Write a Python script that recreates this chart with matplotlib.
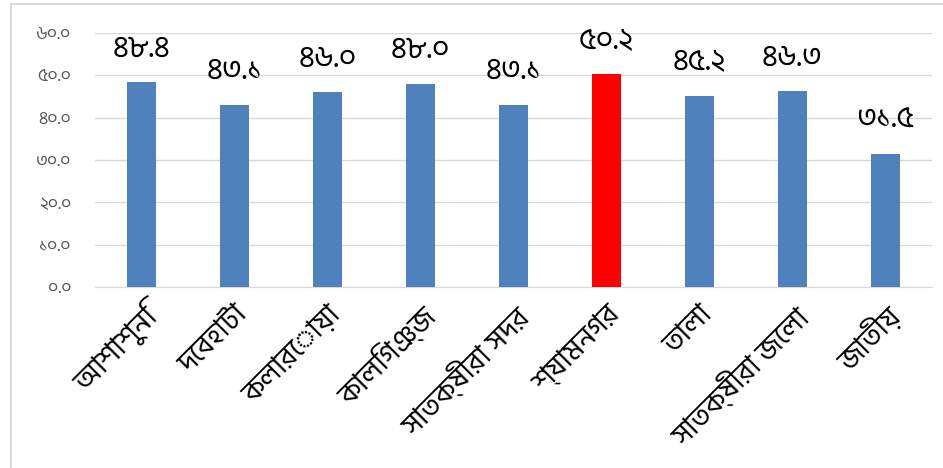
import matplotlib
matplotlib.use('Agg')
import matplotlib.pyplot as plt
from matplotlib.patches import Rectangle

plt.rcParams['font.family'] = ['Hind Siliguri', 'DejaVu Sans']

# Data
upazilas = ['আশাশুনি', 'দেবহাটা', 'কলারোয়া', 'কালিগঞ্জ', 'সাতক্ষীরা সদর',
            'শ্যামনগর', 'তালা', 'সাতক্ষীরা জেলা', 'জাতীয়']
values = [48.4, 43.1, 46.0, 48.0, 43.1, 50.2, 45.2, 46.3, 31.5]
value_labels = ['৪৮.৪', '৪৩.১', '৪৬.০', '৪৮.০', '৪৩.১', '৫০.২', '৪৫.২', '৪৬.৩', '৩১.৫']
yticks = [0, 10, 20, 30, 40, 50, 60]
ytick_labels = ['০.০', '১০.০', '২০.০', '৩০.০', '৪০.০', '৫০.০', '৬০.০']
highlight = 'শ্যামনগর'

colors = ['#ff0000' if u == highlight else '#4f81bd' for u in upazilas]

fig = plt.figure(figsize=(9.43, 4.68), dpi=100)
# light frame around the chart area
fig.patches.append(Rectangle((11 / 943, -0.1), 1.1, 1.1 - 4 / 468,
                             transform=fig.transFigure, fill=False,
                             edgecolor='#d9d9d9', linewidth=1.5))
ax = fig.add_axes([95 / 943, 1 - 287 / 468, (932 - 95) / 943, (287 - 33) / 468])

x = range(len(upazilas))
ax.bar(x, values, width=0.32, color=colors, zorder=3)

for xi, v, lab in zip(x, values, value_labels):
    ax.annotate(lab, (xi, v), xytext=(0, 14), textcoords='offset points',
                ha='center', va='bottom', fontsize=22, color='black')

ax.set_xlim(-0.5, len(upazilas) - 0.5)
ax.set_ylim(0, 60)
ax.set_yticks(yticks)
ax.set_yticklabels(ytick_labels, color='#595959', fontsize=13)
ax.set_xticks(list(x))
ax.set_xticklabels(upazilas, rotation=45, ha='right', rotation_mode='anchor',
                   fontsize=21, color='black')
ax.tick_params(axis='y', length=0, pad=17)
ax.tick_params(axis='x', length=0, pad=10)
ax.grid(axis='y', color='#d9d9d9', linewidth=1, zorder=0)
for s in ['top', 'right', 'left']:
    ax.spines[s].set_visible(False)
ax.spines['bottom'].set_color('#d9d9d9')

fig.savefig('out.png', dpi=100)
